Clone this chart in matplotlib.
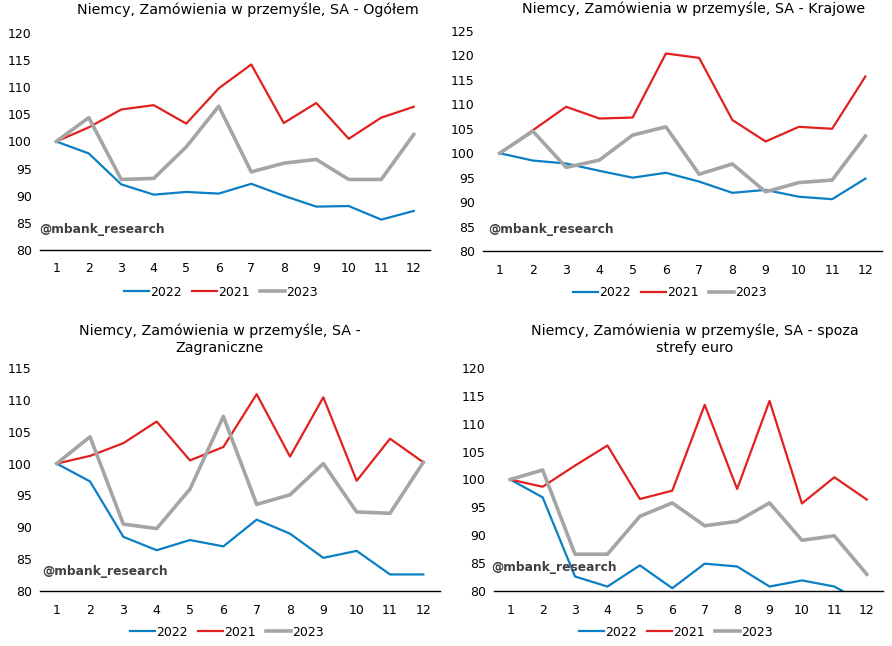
import matplotlib
matplotlib.use("Agg")
import matplotlib.pyplot as plt
from matplotlib.lines import Line2D

plt.rcParams['font.family'] = ['DejaVu Sans']

months = list(range(1, 13))

# Ogółem
og_2022 = [100, 97.8, 92.1, 90.2, 90.7, 90.4, 92.2, 90.0, 88.0, 88.1, 85.6, 87.2]
og_2021 = [100, 102.6, 105.9, 106.7, 103.3, 109.8, 114.2, 103.4, 107.1, 100.5, 104.4, 106.4]
og_2023 = [100, 104.4, 93.0, 93.2, 99.0, 106.5, 94.4, 96.0, 96.7, 93.0, 93.0, 101.3]

# Krajowe
kr_2022 = [100, 98.5, 97.9, 96.4, 95.0, 96.0, 94.2, 91.9, 92.5, 91.1, 90.6, 94.8]
kr_2021 = [100, 104.7, 109.5, 107.1, 107.3, 120.4, 119.5, 106.8, 102.4, 105.4, 105.0, 115.7]
kr_2023 = [100, 104.5, 97.1, 98.6, 103.7, 105.4, 95.7, 97.8, 92.1, 94.0, 94.5, 103.5]

# Zagraniczne
za_2022 = [100, 97.2, 88.5, 86.4, 88.0, 87.0, 91.2, 89.0, 85.2, 86.3, 82.6, 82.6]
za_2021 = [100, 101.2, 103.2, 106.6, 100.5, 102.6, 110.9, 101.1, 110.4, 97.3, 103.9, 100.2]
za_2023 = [100, 104.2, 90.5, 89.8, 96.0, 107.4, 93.6, 95.1, 100.0, 92.4, 92.2, 100.2]

# spoza strefy euro
se_2022 = [100, 96.8, 82.6, 80.8, 84.6, 80.5, 84.9, 84.4, 80.8, 81.9, 80.8, 77.6]
se_2021 = [100, 98.7, 102.5, 106.1, 96.5, 98.0, 113.4, 98.3, 114.1, 95.7, 100.4, 96.4]
se_2023 = [100, 101.7, 86.6, 86.6, 93.4, 95.8, 91.7, 92.5, 95.8, 89.1, 89.9, 83.0]

W, H = 892, 646
BLUE = '#0B7FC4'
RED = '#E1211F'
GRAY = '#A5A5A5'

fig = plt.figure(figsize=(W / 100, H / 100), dpi=100)


def fx(px):
    return px / W


def fy(py):
    return 1 - py / H


panels = [
    dict(box=(40, 430, 250, 33), ymax=120, data=(og_2022, og_2021, og_2023),
         title='Niemcy, Zamówienia w przemyśle, SA - Ogółem', tx=248, ty=10,
         lx=221, ly=292, wx=39, wy=229),
    dict(box=(483, 882, 251, 31), ymax=125, data=(kr_2022, kr_2021, kr_2023),
         title='Niemcy, Zamówienia w przemyśle, SA - Krajowe', tx=694, ty=9,
         lx=670, ly=293, wx=488, wy=229),
    dict(box=(40, 440, 591, 368), ymax=115, data=(za_2022, za_2021, za_2023),
         title='Niemcy, Zamówienia w przemyśle, SA -\nZagraniczne', tx=220, ty=339,
         lx=227, ly=632, wx=42, wy=572),
    dict(box=(494, 883, 591, 368), ymax=120, data=(se_2022, se_2021, se_2023),
         title='Niemcy, Zamówienia w przemyśle, SA - spoza\nstrefy euro', tx=695, ty=339,
         lx=676, ly=632, wx=491, wy=568),
]

for p in panels:
    l, r, b, t = p['box']
    ax = fig.add_axes([fx(l), fy(b), fx(r) - fx(l), fy(t) - fy(b)])
    d22, d21, d23 = p['data']
    ax.plot(months, d22, color=BLUE, lw=1.6, label='2022')
    ax.plot(months, d21, color=RED, lw=1.6, label='2021')
    ax.plot(months, d23, color=GRAY, lw=2.6, label='2023')
    ax.set_xlim(0.5, 12.5)
    ax.set_ylim(80, p['ymax'])
    ax.set_yticks(range(80, p['ymax'] + 1, 5))
    ax.set_xticks(months)
    for s in ['left', 'right', 'top']:
        ax.spines[s].set_visible(False)
    ax.spines['bottom'].set_color('black')
    ax.spines['bottom'].set_linewidth(1.0)
    ax.tick_params(length=0, labelsize=9, colors='black', pad=6)
    ax.tick_params(axis='x', pad=9)

    fig.text(fx(p['tx']), fy(p['ty']), p['title'], ha='center', va='center',
             fontsize=10.3, linespacing=1.25)
    fig.text(fx(p['wx']), fy(p['wy']), '@mbank_research', ha='left', va='center',
             fontsize=8.8, fontweight='bold', color='#404040')

    handles = [Line2D([], [], color=BLUE, lw=1.6),
               Line2D([], [], color=RED, lw=1.6),
               Line2D([], [], color=GRAY, lw=2.6)]
    fig.legend(handles, ['2022', '2021', '2023'], loc='center',
               bbox_to_anchor=(fx(p['lx']), fy(p['ly'])), ncol=3, frameon=False,
               fontsize=9, handlelength=2.0, handletextpad=0.1, columnspacing=0.8)

fig.savefig('out.png', dpi=100)
